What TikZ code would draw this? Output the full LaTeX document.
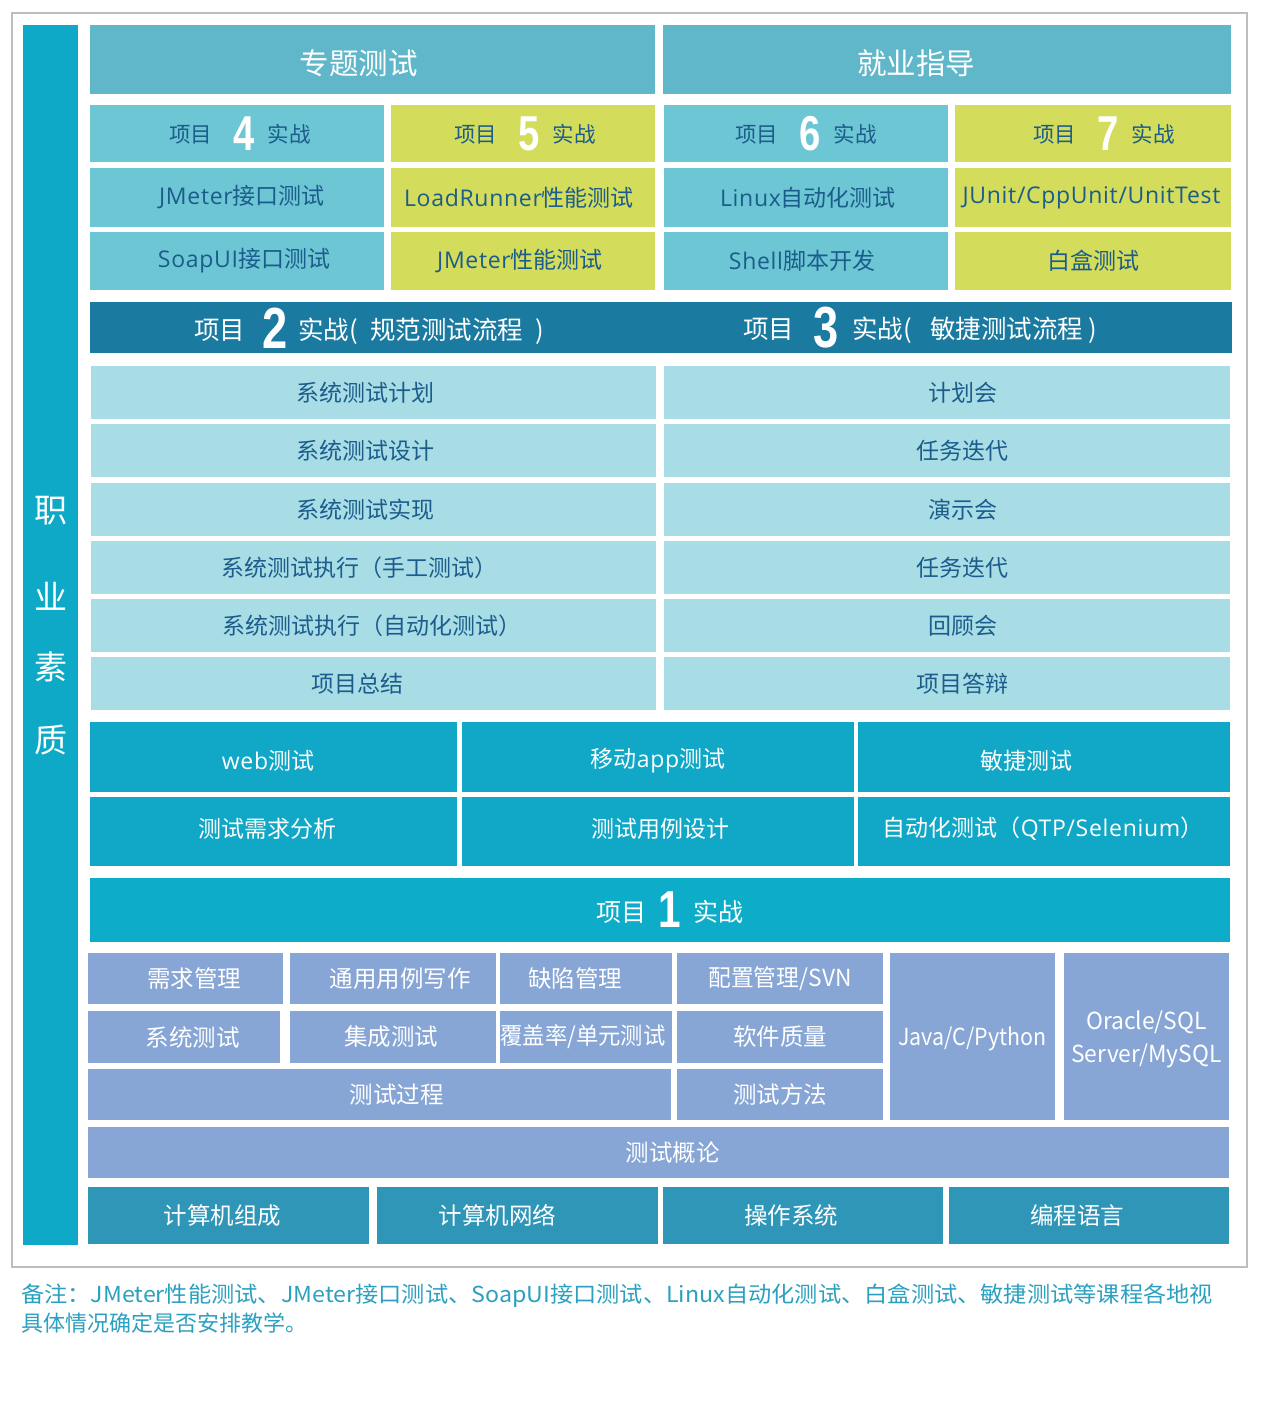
\documentclass[tikz,border=0pt]{standalone}
\usepackage{fontspec}
\usepackage{graphicx}
\setmainfont{Noto Sans CJK SC}
\newfontfamily\en{Open Sans}[LetterSpace=3]
\newfontfamily\dig{Liberation Sans}
\definecolor{cFrame}{HTML}{BEBEBE}
\definecolor{cBar}{HTML}{0EA9C7}
\definecolor{cHdr}{HTML}{60B7C9}
\definecolor{cTeal}{HTML}{6DC6D3}
\definecolor{cLime}{HTML}{D3DC5B}
\definecolor{cNavy}{HTML}{1B5C8C}
\definecolor{cDeep}{HTML}{1A7AA0}
\definecolor{cPale}{HTML}{A8DDE5}
\definecolor{cMid}{HTML}{10A8C6}
\definecolor{cOne}{HTML}{0DADCA}
\definecolor{cBlue}{HTML}{87A5D5}
\definecolor{cBase}{HTML}{3096B8}
\definecolor{cNote}{HTML}{2BA0BF}
\newcommand\bignum[4][white]{\raisebox{-#4pt}{\scalebox{0.78}[1]{\fontsize{#2}{#2}\selectfont\dig\bfseries\color{#1}#3}}}
\newcommand\dn[2]{\raisebox{-#1pt}[\height][\depth]{#2}}
\newcommand\sx[2]{\scalebox{#1}[1]{#2}}
\newcommand\cellbox[8][0pt]{%
  \node[#2, minimum width={(#5)-(#3)}, minimum height={(#6)-(#4)}] (#7)
    at ({((#3)+(#5))/2},{((#4)+(#6))/2}) {\hspace*{#1}#8};}
\tikzset{
  cell/.style={inner sep=0pt, outer sep=0pt, font=\fontsize{23}{28}\selectfont},
  hdrcell/.style={cell, fill=cHdr, text=white, font=\fontsize{29.5}{32}\selectfont},
  tealcell/.style={cell, fill=cTeal, text=cNavy},
  limecell/.style={cell, fill=cLime, text=cNavy},
  palecell/.style={cell, fill=cPale, text=cNavy},
  midcell/.style={cell, fill=cMid, text=white},
  bluecell/.style={cell, fill=cBlue, text=white, font=\fontsize{23.5}{34}\selectfont},
  basecell/.style={cell, fill=cBase, text=white, font=\fontsize{23.5}{28}\selectfont},
  plain/.style={inner sep=0pt, outer sep=0pt},
}
\begin{document}
\begin{tikzpicture}[x=1pt,y=-1pt]
\useasboundingbox (0,0) rectangle (1268,1412);
\fill[white] (0,0) rectangle (1268,1412);
% outer frame
\draw[cFrame, line width=2.2pt] (12,13) rectangle (1247,1267);
% left vertical bar
\fill[cBar] (23,25) rectangle (78,1245);
\foreach \ch/\yy/\nm in {职/511/v1, 业/596/v2, 素/667/v3, 质/740/v4}
  \node[plain, text=white, font=\fontsize{33}{33}\selectfont] (\nm) at (51,\yy) {\ch};
% headers
\cellbox[-28pt]{hdrcell}{90}{25}{655}{94}{h1}{\dn{4}{专题测试}}
\cellbox[-62pt]{hdrcell}{663}{25}{1231}{94}{h2}{\dn{4}{就业指导}}
% project 4-7
\cellbox[6pt]{tealcell}{90}{105}{384}{162}{p4}{\fontsize{21.5}{24}\selectfont 项目\hspace{21pt}\bignum{49}{4}{8}\hspace{13pt}实战}
\cellbox[4pt]{limecell}{391}{105}{655}{162}{p5}{\fontsize{21.5}{24}\selectfont 项目\hspace{21pt}\bignum{49}{5}{8}\hspace{13pt}实战}
\cellbox[0pt]{tealcell}{664}{105}{948}{162}{p6}{\fontsize{21.5}{24}\selectfont 项目\hspace{21pt}\bignum{49}{6}{8}\hspace{13pt}实战}
\cellbox[22pt]{limecell}{955}{105}{1231}{162}{p7}{\fontsize{21.5}{24}\selectfont 项目\hspace{21pt}\bignum{49}{7}{8}\hspace{13pt}实战}
\cellbox[10pt]{tealcell}{90}{168}{384}{227}{a1}{{\en JMeter}接口测试}
\cellbox[-8pt]{limecell}{391}{168}{655}{227}{a2}{{\en LoadRunner}性能测试}
\cellbox[4pt]{tealcell}{664}{168}{948}{227}{a3}{{\en Linux}自动化测试}
\cellbox[-3pt]{limecell}{955}{168}{1231}{227}{a4}{{\en JUnit/CppUnit/UnitTest}}
\cellbox[14pt]{tealcell}{90}{232}{384}{290}{b1}{{\en SoapUI}接口测试}
\cellbox[-6pt]{limecell}{391}{232}{655}{290}{b2}{{\en JMeter}性能测试}
\cellbox[-8pt]{tealcell}{664}{232}{948}{290}{b3}{{\en Shell}脚本开发}
\cellbox[0pt]{limecell}{955}{232}{1231}{290}{b4}{白盒测试}
% project 2 / 3 bar
\cellbox{cell, fill=cDeep}{90}{302}{1232}{353}{p23}{}
\node[plain, text=white, font=\fontsize{25.5}{28}\selectfont] (p2) at (369,328)
  {项目\hspace{17pt}\bignum{58}{2}{9}\hspace{11pt}实战(\hspace{12pt}规范测试流程\hspace{12pt})};
\node[plain, text=white, font=\fontsize{25.5}{28}\selectfont] (p3) at (920,328)
  {项目\hspace{19pt}\bignum{58}{3}{9}\hspace{14pt}实战(\hspace{18pt}敏捷测试流程\hspace{5pt})};
% process rows
\cellbox[-16pt]{palecell}{91}{366}{656}{419}{l1}{系统测试计划}
\cellbox[-16pt]{palecell}{91}{424}{656}{477}{l2}{系统测试设计}
\cellbox[-16pt]{palecell}{91}{483}{656}{536}{l3}{系统测试实现}
\cellbox[-28pt]{palecell}{91}{541}{656}{594}{l4}{系统测试执行（手工测试）}
\cellbox[-4pt]{palecell}{91}{599}{656}{652}{l5}{系统测试执行（自动化测试）}
\cellbox[-32pt]{palecell}{91}{657}{656}{710}{l6}{项目总结}
\cellbox[32pt]{palecell}{664}{366}{1230}{419}{r1}{计划会}
\cellbox[30pt]{palecell}{664}{424}{1230}{477}{r2}{任务迭代}
\cellbox[32pt]{palecell}{664}{483}{1230}{536}{r3}{演示会}
\cellbox[30pt]{palecell}{664}{541}{1230}{594}{r4}{任务迭代}
\cellbox[32pt]{palecell}{664}{599}{1230}{652}{r5}{回顾会}
\cellbox[30pt]{palecell}{664}{657}{1230}{710}{r6}{项目答辩}
% technique rows
\cellbox[-11pt]{midcell}{90}{722}{457}{792}{m1}{\dn{4}{{\en web}测试}}
\cellbox[0pt]{midcell}{462}{722}{854}{792}{m2}{\dn{4}{移动{\en app}测试}}
\cellbox[-35pt]{midcell}{858}{722}{1230}{792}{m3}{\dn{4}{敏捷测试}}
\cellbox[-12pt]{midcell}{90}{797}{457}{866}{n1}{\dn{-3}{测试需求分析}}
\cellbox[4pt]{midcell}{462}{797}{854}{866}{n2}{\dn{-3}{测试用例设计}}
\cellbox[-2pt]{midcell}{858}{797}{1230}{866}{n3}{\dn{-3}{自动化测试（{\en QTP/Selenium}）}}
% project 1
\cellbox[20pt]{cell, fill=cOne, text=white, font=\fontsize{25}{28}\selectfont}{90}{878}{1230}{942}{p1}
  {项目\hspace{12pt}\bignum{52}{1}{6}\hspace{12pt}实战}
% basics
\cellbox[17pt]{bluecell}{88}{953}{283}{1004}{c1}{需求管理}
\cellbox[14pt]{bluecell}{290}{953}{496}{1004}{c2}{通用用例写作}
\cellbox[-22pt]{bluecell}{500}{953}{672}{1004}{c3}{缺陷管理}
\cellbox[0pt]{bluecell}{677}{953}{883}{1004}{c4}{\sx{0.97}{配置管理/SVN}}
\cellbox[17pt]{bluecell}{88}{1011}{280}{1063}{d1}{系统测试}
\cellbox[-4pt]{bluecell}{290}{1011}{496}{1063}{d2}{集成测试}
\cellbox[-6pt]{bluecell}{500}{1011}{672}{1063}{d3}{\sx{0.95}{覆盖率/单元测试}}
\cellbox[0pt]{bluecell}{677}{1011}{883}{1063}{d4}{软件质量}
\cellbox[34pt]{bluecell}{88}{1069}{671}{1120}{e1}{测试过程}
\cellbox[0pt]{bluecell}{677}{1069}{883}{1120}{e2}{测试方法}
\cellbox[0pt]{bluecell}{890}{953}{1055}{1120}{j1}{\dn{2}{\sx{0.91}{Java/C/Python}}}
\cellbox[0pt]{bluecell}{1064}{953}{1229}{1120}{o1}{\dn{3}{\sx{0.97}{\shortstack{Oracle/SQL\\[7pt]Server/MySQL}}}}
\cellbox[28pt]{bluecell}{88}{1127}{1229}{1178}{t1}{测试概论}
\cellbox[-12pt]{basecell}{88}{1187}{369}{1244}{k1}{计算机组成}
\cellbox[-40pt]{basecell}{377}{1187}{658}{1244}{k2}{计算机网络}
\cellbox[-24pt]{basecell}{663}{1187}{943}{1244}{k3}{操作系统}
\cellbox[-24pt]{basecell}{949}{1187}{1229}{1244}{k4}{编程语言}
% note
\node[plain, anchor=west, text=cNote, font=\fontsize{22}{24}\selectfont] (note1) at (21,1296)
  {\resizebox{1192pt}{\height}{备注：JMeter性能测试、JMeter接口测试、SoapUI接口测试、Linux自动化测试、白盒测试、敏捷测试等课程各地视}};
\node[plain, anchor=west, text=cNote, font=\fontsize{22}{24}\selectfont] (note2) at (21,1323)
  {具体情况确定是否安排教学。};
\end{tikzpicture}
\end{document}
